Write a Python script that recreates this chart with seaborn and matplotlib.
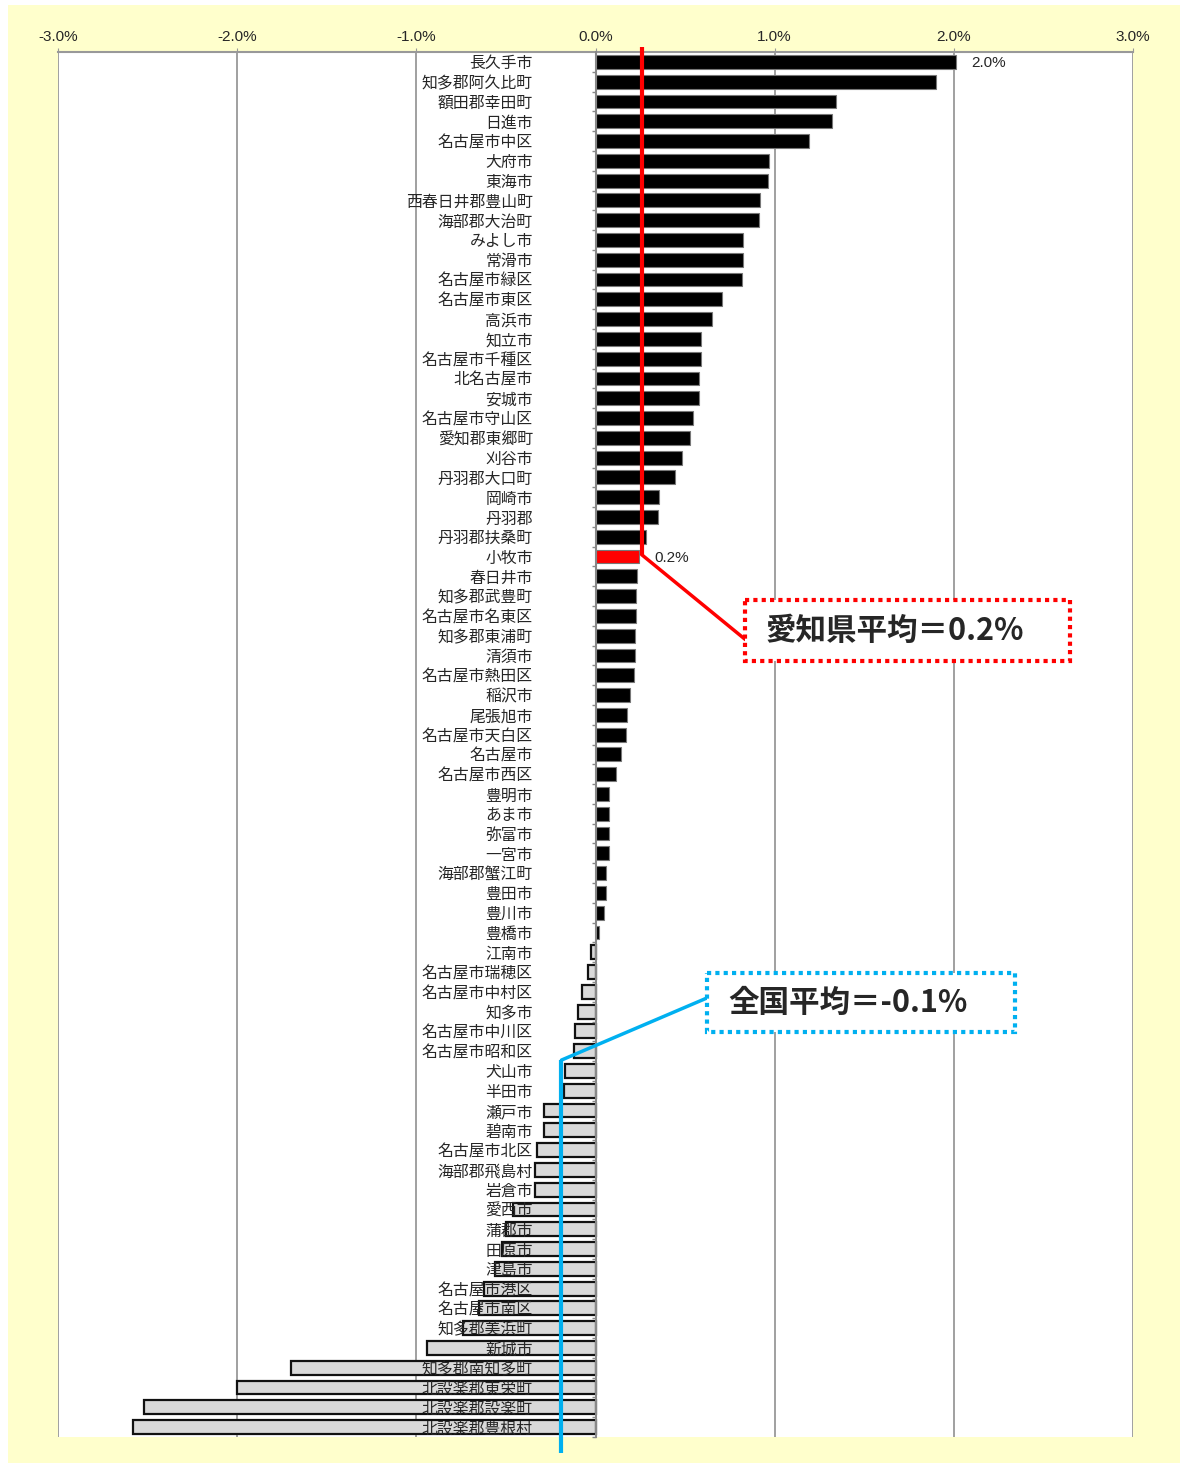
import matplotlib
matplotlib.use('Agg')
import matplotlib.pyplot as plt
import matplotlib.patches as mpatches
from matplotlib.ticker import FixedLocator, PercentFormatter
import seaborn as sns

# growth rate by municipality (%)
names = ['長久手市', '知多郡阿久比町', '額田郡幸田町', '日進市', '名古屋市中区',
         '大府市', '東海市', '西春日井郡豊山町', '海部郡大治町', 'みよし市',
         '常滑市', '名古屋市緑区', '名古屋市東区', '高浜市', '知立市',
         '名古屋市千種区', '北名古屋市', '安城市', '名古屋市守山区', '愛知郡東郷町',
         '刈谷市', '丹羽郡大口町', '岡崎市', '丹羽郡', '丹羽郡扶桑町',
         '小牧市', '春日井市', '知多郡武豊町', '名古屋市名東区', '知多郡東浦町',
         '清須市', '名古屋市熱田区', '稲沢市', '尾張旭市', '名古屋市天白区',
         '名古屋市', '名古屋市西区', '豊明市', 'あま市', '弥富市',
         '一宮市', '海部郡蟹江町', '豊田市', '豊川市', '豊橋市',
         '江南市', '名古屋市瑞穂区', '名古屋市中村区', '知多市', '名古屋市中川区',
         '名古屋市昭和区', '犬山市', '半田市', '瀬戸市', '碧南市',
         '名古屋市北区', '海部郡飛島村', '岩倉市', '愛西市', '蒲郡市',
         '田原市', '津島市', '名古屋市港区', '名古屋市南区', '知多郡美浜町',
         '新城市', '知多郡南知多町', '北設楽郡東栄町', '北設楽郡設楽町', '北設楽郡豊根村']
values = [2.01, 1.90, 1.345, 1.32, 1.19, 0.971, 0.96, 0.919, 0.91, 0.826,
          0.826, 0.818, 0.707, 0.653, 0.59, 0.59, 0.58, 0.576, 0.545, 0.526,
          0.484, 0.446, 0.353, 0.348, 0.283, 0.245, 0.23, 0.227, 0.225, 0.221,
          0.218, 0.214, 0.194, 0.177, 0.173, 0.141, 0.113, 0.074, 0.074, 0.073,
          0.073, 0.056, 0.056, 0.046, 0.018, -0.024, -0.043, -0.078, -0.095, -0.112,
          -0.121, -0.171, -0.175, -0.29, -0.29, -0.325, -0.335, -0.335, -0.46, -0.50,
          -0.52, -0.56, -0.62, -0.65, -0.74, -0.94, -1.70, -2.00, -2.52, -2.58]
highlight = '小牧市'
pref_avg_x = 0.257     # red line position
nat_avg_x = -0.19      # blue line position
pref_text = '愛知県平均＝0.2%'
nat_text = '全国平均＝-0.1%'
xticks = [-3, -2, -1, 0, 1, 2, 3]

sns.set_style('white')
plt.rcParams['font.family'] = ['Noto Sans CJK JP', 'DejaVu Sans']
plt.rcParams['axes.unicode_minus'] = False

fig = plt.figure(figsize=(11.8, 14.63), dpi=100)
fig.patch.set_facecolor('white')
fig.patches.append(mpatches.Rectangle((8 / 1180, 0), 1, 1 - 5 / 1463,
                                      transform=fig.transFigure, facecolor='#FFFFCC',
                                      edgecolor='none', zorder=-10))
ax = fig.add_axes([58 / 1180, 1 - 1437 / 1463, (1133 - 58) / 1180, (1437 - 52) / 1463])
ax.set_facecolor('white')

colors = []
for n, v in zip(names, values):
    if n == highlight:
        colors.append('#FF0000')
    elif v < 0:
        colors.append('#D9D9D9')
    else:
        colors.append('#000000')

sns.barplot(x=values, y=names, hue=names, palette=colors, legend=False,
            orient='h', width=0.7, saturation=1, ax=ax, zorder=2)
for p in ax.patches:
    if p.get_width() < 0:
        p.set_edgecolor('#111111')
        p.set_linewidth(1.6)
    else:
        p.set_edgecolor('#777777')
        p.set_linewidth(0.8)

ax.set_xlim(-3, 3)
ax.set_ylim(len(names) - 0.5, -0.5)
ax.set_xlabel('')
ax.set_ylabel('')

# x axis on top
ax.xaxis.tick_top()
ax.set_xticks(xticks)
ax.xaxis.set_major_formatter(PercentFormatter(decimals=1))
ax.tick_params(axis='x', top=True, length=3, color='#999999', labelsize=11, pad=3)
for t in ax.get_xticklabels():
    t.set_fontfamily(['Liberation Sans', 'DejaVu Sans'])
ax.grid(axis='x', color='#999999', linewidth=1.3)
ax.set_axisbelow(True)

# category axis at zero
for s in ['right', 'bottom']:
    ax.spines[s].set_visible(False)
ax.spines['top'].set_color('#999999')
ax.spines['top'].set_linewidth(1.5)
ax.spines['left'].set_position(('data', 0))
ax.spines['left'].set_color('#888888')
ax.spines['left'].set_linewidth(1.5)
ax.spines['left'].set_zorder(4)
ax.yaxis.set_minor_locator(FixedLocator([i + 0.5 for i in range(len(names))]))
ax.tick_params(axis='y', which='major', length=0, pad=45, labelsize=11.4)
ax.tick_params(axis='y', which='minor', length=3, color='#888888', width=1, left=True)
ax.yaxis.set_zorder(5)

# value labels
top_i = 0
hi_i = names.index(highlight)
for i in [top_i, hi_i]:
    ax.annotate(f'{values[i]:.1f}%', (values[i], i + 0.05), xytext=(11, 0),
                textcoords='offset points', va='center', ha='left', fontsize=11,
                family=['Liberation Sans', 'DejaVu Sans'])

# prefecture average callout
ax.plot([pref_avg_x, pref_avg_x], [-0.75, hi_i - 0.1], color='#FF0000', lw=3,
        clip_on=False, zorder=6, solid_capstyle='butt')
ax.plot([pref_avg_x, 0.837], [hi_i - 0.1, 29.2], color='#FF0000', lw=2.5,
        clip_on=False, zorder=6)
ax.add_patch(mpatches.Rectangle((0.837, 27.2), 2.65 - 0.837, 3.1, fill=True,
                                facecolor='white', edgecolor='#FF0000', lw=3,
                                linestyle=(0, (1, 1)), zorder=7))
ax.text(1.67, 28.78, pref_text, ha='center', va='center', fontsize=22,
        fontweight='bold', zorder=8)

# national average callout
ax.plot([nat_avg_x, nat_avg_x], [50.45, 70.3], color='#00B0F0', lw=3,
        clip_on=False, zorder=6, solid_capstyle='butt')
ax.plot([nat_avg_x, 0.625], [50.45, 47.3], color='#00B0F0', lw=2.5,
        clip_on=False, zorder=6)
ax.add_patch(mpatches.Rectangle((0.625, 46.06), 2.344 - 0.625, 2.98, fill=True,
                                facecolor='white', edgecolor='#00B0F0', lw=3,
                                linestyle=(0, (1, 1)), zorder=7))
ax.text(1.41, 47.55, nat_text, ha='center', va='center', fontsize=22,
        fontweight='bold', zorder=8)

fig.savefig('out.png', dpi=100)
